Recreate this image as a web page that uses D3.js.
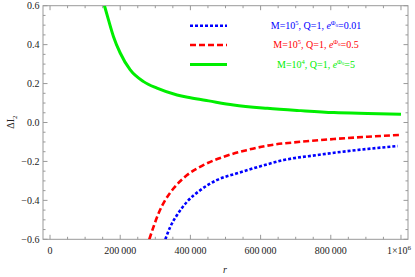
<!DOCTYPE html>
<html><head><meta charset="utf-8">
<script src="https://cdn.jsdelivr.net/npm/d3@7"></script>
<style>body{margin:0;background:#fff}svg{display:block}text{font-family:"Liberation Serif","DejaVu Serif",serif}</style>
</head><body><svg id="c" width="415" height="277"></svg>
<script>
// data: [r, ΔI2]
const blueSeries = [[328600,-0.6],[342900,-0.535],[362000,-0.475],[390600,-0.407],[428600,-0.347],[476300,-0.295],[533400,-0.261],[595200,-0.227],[665700,-0.193],[762000,-0.167],[857100,-0.145],[990600,-0.121]];
const redSeries = [[282900,-0.6],[295100,-0.535],[309400,-0.466],[328600,-0.398],[352300,-0.338],[390600,-0.270],[438000,-0.218],[495100,-0.176],[560000,-0.142],[619100,-0.119],[714300,-0.099],[808600,-0.085],[904800,-0.073],[995000,-0.064]];
const greenSeries = [[155100,0.6],[166600,0.527],[180900,0.441],[200000,0.357],[228600,0.270],[266600,0.210],[304900,0.176],[362000,0.141],[400000,0.127],[452300,0.111],[522900,0.090],[619100,0.073],[714300,0.061],[808600,0.051],[904800,0.046],[1000000,0.042]];
const xTicks = [0,200000,400000,600000,800000,1000000];
const xTickLabels = ["0","200\u2009000","400\u2009000","600\u2009000","800\u2009000","1×10^6"];
const yTicks = [0.6,0.4,0.2,0.0,-0.2,-0.4,-0.6];
const yTickLabels = ["0.6","0.4","0.2","0.0","\u22120.2","\u22120.4","\u22120.6"];
const legendLabels = [
  {M:"5", phi:"0.01", color:"#0000ff", dash:"3,2"},
  {M:"5", phi:"0.5", color:"#ff0000", dash:"6,3"},
  {M:"4", phi:"5", color:"#00ee00", dash:null}
];

const svg = d3.select("#c");
const L=43,R=408,T=5.7,B=239.3;
const x = d3.scaleLinear().domain([-20000,1020000]).range([L,R]);
const y = d3.scaleLinear().domain([-0.6,0.6]).range([B,T]);
const frame="#999";

svg.append("defs").append("clipPath").attr("id","clip").append("rect")
  .attr("x",L).attr("y",T).attr("width",R-L).attr("height",B-T);

svg.append("rect").attr("x",L).attr("y",T).attr("width",R-L).attr("height",B-T)
  .attr("fill","none").attr("stroke",frame).attr("stroke-width",1);

const xMinor = d3.range(0,1020001,50000);
const yMinor = d3.range(-12,13).map(d=>d*0.05);
const g = svg.append("g").attr("stroke",frame).attr("stroke-width",1);
xMinor.forEach(v=>{
  const major = Math.abs(v%200000)<1;
  const len = major?4.5:2.5;
  g.append("line").attr("x1",x(v)).attr("x2",x(v)).attr("y1",B).attr("y2",B-len);
  g.append("line").attr("x1",x(v)).attr("x2",x(v)).attr("y1",T).attr("y2",T+len);
});
yMinor.forEach(v=>{
  const major = Math.abs(Math.round(v*100)%20)<1;
  const len = major?4.5:2.5;
  g.append("line").attr("y1",y(v)).attr("y2",y(v)).attr("x1",L).attr("x2",L+len);
  g.append("line").attr("y1",y(v)).attr("y2",y(v)).attr("x1",R).attr("x2",R-len);
});

xTicks.forEach((v,i)=>{
  const t = svg.append("text").attr("x",x(v)).attr("y",253.5).attr("text-anchor","middle")
    .attr("font-size",10).attr("fill","#222");
  const lab = xTickLabels[i];
  if(lab.includes("^")){
    const [a,b]=lab.split("^");
    t.attr("x",x(v)-2);
    t.append("tspan").text(a);
    t.append("tspan").attr("dy",-4).attr("font-size",7).text(b);
  } else t.text(lab);
});
yTicks.forEach((v,i)=>{
  svg.append("text").attr("x",39.5).attr("y",y(v)+3.5).attr("text-anchor","end")
    .attr("font-size",10).attr("fill","#222").text(yTickLabels[i]);
});

const yl = svg.append("text").attr("transform","translate(14,122) rotate(-90)")
  .attr("text-anchor","middle").attr("font-size",10).attr("fill","#222");
yl.append("tspan").text("ΔI");
yl.append("tspan").attr("dy",2.5).attr("font-size",7).text("2");
svg.append("text").attr("x",225).attr("y",273).attr("text-anchor","middle")
  .attr("font-size",10).attr("font-style","italic").attr("fill","#222").text("r");

const line = d3.line().x(d=>x(d[0])).y(d=>y(d[1])).curve(d3.curveMonotoneX);
const series=[blueSeries,redSeries,greenSeries];
const cg = svg.append("g").attr("clip-path","url(#clip)");
series.forEach((s,i)=>{
  const p = cg.append("path").datum(s).attr("d",line).attr("fill","none")
    .attr("stroke",legendLabels[i].color).attr("stroke-width",i==2?3:2.6);
  if(legendLabels[i].dash) p.attr("stroke-dasharray",legendLabels[i].dash);
});

const ly=[25.7,45,64.5];
legendLabels.forEach((d,i)=>{
  const l = svg.append("line").attr("x1",190).attr("x2",227).attr("y1",ly[i]).attr("y2",ly[i])
    .attr("stroke",d.color).attr("stroke-width",i==2?3:2.6);
  if(d.dash) l.attr("stroke-dasharray",d.dash);
  const t = svg.append("text").attr("x",316).attr("y",ly[i]+3.4).attr("text-anchor","middle")
    .attr("font-size",10).attr("fill",d.color);
  t.append("tspan").text("M=10");
  t.append("tspan").attr("dy",-4).attr("font-size",6.5).text(d.M);
  t.append("tspan").attr("dy",4).text(", Q=1, ");
  t.append("tspan").attr("font-style","italic").text("e");
  t.append("tspan").attr("dy",-4).attr("font-size",6.5).text("Φ");
  t.append("tspan").attr("dy",1.5).attr("font-size",5).text("0");
  t.append("tspan").attr("dy",2.5).text("="+d.phi);
});
</script></body></html>
